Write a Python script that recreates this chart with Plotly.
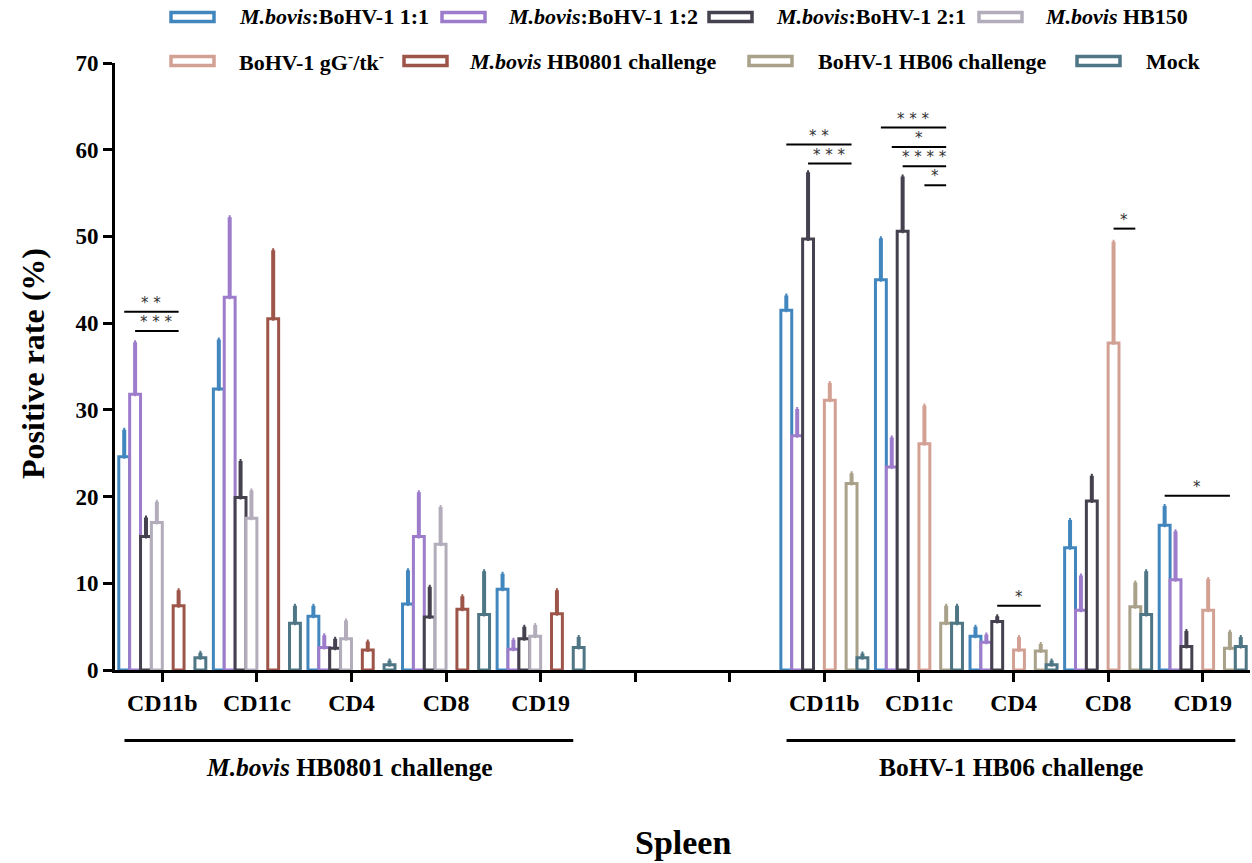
import plotly.graph_objects as go

# ---------------- data ----------------
categories = ["CD11b", "CD11c", "CD4", "CD8", "CD19", "", "",
              "CD11b", "CD11c", "CD4", "CD8", "CD19"]

series_names = [
    "<i>M.bovis</i>:BoHV-1 1:1",
    "<i>M.bovis</i>:BoHV-1 1:2",
    "<i>M.bovis</i>:BoHV-1 2:1",
    "<i>M.bovis</i> HB150",
    "BoHV-1 gG<sup>-</sup>/tk<sup>-</sup>",
    "<i>M.bovis</i> HB0801 challenge",
    "BoHV-1 HB06 challenge",
    "Mock",
]
series_colors = ["#4286BE", "#9C7CCB", "#46414F", "#B3ADBB",
                 "#D3A194", "#9D5549", "#A9A18A", "#4F7685"]

N = None
mean_11 = [24.6, 32.4, 6.2, 7.6, 9.3, N, N, 41.5, 45.0, 3.9, 14.1, 16.7]
sd_11 = [3.1, 5.7, 1.2, 3.9, 1.8, N, N, 1.7, 4.8, 1.1, 3.2, 2.2]
mean_12 = [31.8, 43.0, 2.6, 15.4, 2.4, N, N, 27.0, 23.4, 3.2, 6.9, 10.4]
sd_12 = [6.0, 9.2, 1.4, 5.1, 1.1, N, N, 3.1, 3.4, 0.9, 4.0, 5.6]
mean_21 = [15.4, 19.9, 2.5, 6.1, 3.6, N, N, 49.7, 50.6, 5.6, 19.5, 2.7]
sd_21 = [2.2, 4.2, 1.1, 3.5, 1.4, N, N, 7.7, 6.3, 0.6, 2.9, 1.8]
mean_hb150 = [17.0, 17.5, 3.6, 14.5, 3.9, N, N, N, N, N, N, N]
sd_hb150 = [2.4, 3.2, 2.1, 4.3, 1.3, N, N, N, N, N, N, N]
mean_ggtk = [N, N, N, N, N, N, N, 31.1, 26.1, 2.3, 37.7, 6.9]
sd_ggtk = [N, N, N, N, N, N, N, 2.0, 4.4, 1.5, 11.7, 3.6]
mean_hb0801 = [7.4, 40.5, 2.3, 7.0, 6.5, N, N, N, N, N, N, N]
sd_hb0801 = [1.8, 7.9, 1.0, 1.5, 2.7, N, N, N, N, N, N, N]
mean_hb06 = [N, N, N, N, N, N, N, 21.5, 5.4, 2.2, 7.3, 2.5]
sd_hb06 = [N, N, N, N, N, N, N, 1.2, 2.0, 0.8, 2.8, 1.9]
mean_mock = [1.4, 5.4, 0.6, 6.4, 2.6, N, N, 1.4, 5.4, 0.6, 6.4, 2.7]
sd_mock = [0.6, 2.0, 0.5, 5.0, 1.2, N, N, 0.5, 2.0, 0.5, 5.0, 1.1]

means = [mean_11, mean_12, mean_21, mean_hb150, mean_ggtk, mean_hb0801, mean_hb06, mean_mock]
sds = [sd_11, sd_12, sd_21, sd_hb150, sd_ggtk, sd_hb0801, sd_hb06, sd_mock]

# significance brackets: (category index, first series, last series, y level, label)
sig_brackets = [
    (0, 0, 5, 41.3, "**"), (0, 1, 5, 39.1, "***"),
    (7, 0, 6, 60.6, "**"), (7, 2, 6, 58.4, "***"),
    (8, 0, 6, 62.55, "***"), (8, 1, 6, 60.3, "*"),
    (8, 2, 6, 58.1, "****"), (8, 4, 6, 55.9, "*"),
    (9, 2, 6, 7.4, "*"), (10, 4, 6, 50.9, "*"), (11, 0, 6, 20.1, "*"),
]

group_labels = ["<i>M.bovis</i> HB0801 challenge", "BoHV-1 HB06 challenge"]
group_spans = [(0, 4), (7, 11)]

y_ticks = [0, 10, 20, 30, 40, 50, 60, 70]

# ---------------- layout constants ----------------
W, H = 1252, 863
ML, MR, MT, MB = 115, 2, 63, 193
BARGAP = 0.08
NS = len(series_names)
SLOT = (1 - BARGAP) / NS
FONT = "Liberation Serif"
x_range = [-0.5, len(categories) - 0.5]

def slot_x(cat, j):
    return cat - (1 - BARGAP) / 2 + (j + 0.5) * SLOT

def px_to_paper_x(px):
    return (px - ML) / (W - ML - MR)

def py_to_paper_y(py):
    return (H - MB - py) / (H - MB - MT)

def data_to_paper_x(x):
    return (x - x_range[0]) / (x_range[1] - x_range[0])

fig = go.Figure()
xs = list(range(len(categories)))
for name, color, m, s in zip(series_names, series_colors, means, sds):
    fig.add_trace(go.Bar(
        x=xs, y=m, name=name, showlegend=False,
        marker=dict(color="white", line=dict(color=color, width=3)),
        error_y=dict(type="data", symmetric=False, array=s,
                     arrayminus=[0 if v is not None else None for v in s],
                     color=color, thickness=4, width=1),
    ))

shapes = []
annotations = []

# significance brackets
for cat, j0, j1, yv, lab in sig_brackets:
    x0, x1 = slot_x(cat, j0), slot_x(cat, j1)
    shapes.append(dict(type="line", xref="x", yref="y", x0=x0, x1=x1, y0=yv, y1=yv,
                       line=dict(color="black", width=2)))
    annotations.append(dict(x=(x0 + x1) / 2, y=yv, xref="x", yref="y",
                            text=" ".join(lab), showarrow=False, xanchor="center",
                            yanchor="bottom", yshift=-2,
                            font=dict(family="DejaVu Sans", size=15, color="#333333")))

# group underlines and labels
for (c0, c1), lab in zip(group_spans, group_labels):
    xa = data_to_paper_x(c0 - 0.4)
    xb = data_to_paper_x(c1 + 0.345)
    yl = py_to_paper_y(740.5)
    shapes.append(dict(type="line", xref="paper", yref="paper", x0=xa, x1=xb, y0=yl, y1=yl,
                       line=dict(color="black", width=3)))
    annotations.append(dict(x=(xa + xb) / 2, y=py_to_paper_y(767), xref="paper", yref="paper",
                            text="<b>" + lab + "</b>", showarrow=False,
                            xanchor="center", yanchor="middle",
                            font=dict(family=FONT, size=25.5, color="black")))

# "Spleen"
annotations.append(dict(x=px_to_paper_x(683), y=py_to_paper_y(842), xref="paper", yref="paper",
                        text="<b>Spleen</b>", showarrow=False, xanchor="center", yanchor="middle",
                        font=dict(family=FONT, size=34, color="black")))
# y title
annotations.append(dict(x=px_to_paper_x(33), y=py_to_paper_y(364), xref="paper", yref="paper",
                        text="<b>Positive rate (%)</b>", showarrow=False, textangle=-90,
                        xanchor="center", yanchor="middle",
                        font=dict(family=FONT, size=32, color="black")))

# custom legend (row, symbol left px, text left px)
legend_pos = [(17, 171, 237), (17, 442, 506), (17, 709, 774), (17, 979, 1043),
              (61, 171, 237), (61, 404, 467), (61, 749, 816), (61, 1077, 1144)]
for (py, sx, tx), name, color in zip(legend_pos, series_names, series_colors):
    shapes.append(dict(type="rect", xref="paper", yref="paper",
                       x0=px_to_paper_x(sx), x1=px_to_paper_x(sx + 43),
                       y0=py_to_paper_y(py + 4.5), y1=py_to_paper_y(py - 4.5),
                       line=dict(color=color, width=3.5), fillcolor="white"))
    annotations.append(dict(x=px_to_paper_x(tx), y=py_to_paper_y(py), xref="paper", yref="paper",
                            text="<b>" + name + "</b>", showarrow=False,
                            xanchor="left", yanchor="middle",
                            font=dict(family=FONT, size=22, color="black")))

fig.update_layout(
    width=W, height=H,
    margin=dict(l=ML, r=MR, t=MT, b=MB, autoexpand=False),
    paper_bgcolor="white", plot_bgcolor="white",
    barmode="group", bargap=BARGAP, bargroupgap=0,
    shapes=shapes, annotations=annotations,
    xaxis=dict(range=x_range, tickmode="array", tickvals=xs, ticktext=categories,
               showline=True, linecolor="black", linewidth=3,
               ticks="outside", ticklen=9, tickwidth=3, tickcolor="black",
               showgrid=False, zeroline=False,
               tickfont=dict(family=FONT, size=24, color="black", weight="bold")),
    yaxis=dict(range=[0, 70], tickmode="array", tickvals=y_ticks,
               showline=True, linecolor="black", linewidth=3,
               ticks="outside", ticklen=9, tickwidth=3, tickcolor="black",
               showgrid=False, zeroline=False,
               tickfont=dict(family=FONT, size=23, color="black", weight="bold")),
)

fig.write_html("out.html", config={"displayModeBar": False},
               post_script="document.body.style.margin='0px';")
